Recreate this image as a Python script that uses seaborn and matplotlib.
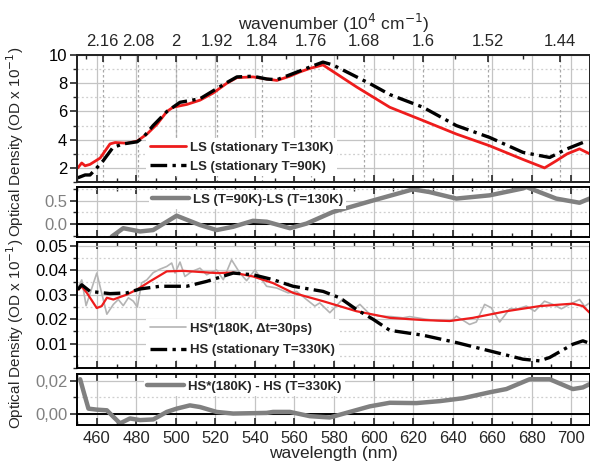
import numpy as np
import pandas as pd
import matplotlib
matplotlib.use("Agg")
import matplotlib.pyplot as plt
import seaborn as sns
from matplotlib.ticker import MultipleLocator, FixedLocator

sns.set_style("white")
plt.rcParams['font.family'] = ['Liberation Sans', 'DejaVu Sans']

# ---- panel 1: stationary LS spectra (OD x 10^-1)
ls130_nm = [450.4, 452.4, 454.1, 456.6, 461.7, 466.7, 469.3, 475.3, 480.4, 485.4, 490.5, 495.5,
            498.6, 505.6, 512.2, 518.8, 525.8, 530.9, 539.0, 546.0, 551.1, 557.7, 562.7, 567.8,
            574.4, 591.4, 608.2, 625.0, 641.9, 658.7, 675.6, 686.5, 692.4, 698.0, 704.2, 709.3]
ls130_od = [2.0, 2.35, 2.15, 2.25, 2.7, 3.7, 3.8, 3.75, 3.9, 4.4, 5.1, 6.0,
            6.3, 6.5, 6.8, 7.3, 8.0, 8.4, 8.45, 8.3, 8.2, 8.5, 8.8, 9.05,
            9.3, 7.74, 6.3, 5.36, 4.4, 3.57, 2.6, 2.0, 2.5, 3.0, 3.35, 3.0]
ls90_nm = [450.4, 454.1, 456.6, 460.0, 463.2, 468.2, 473.3, 480.4, 483.4, 488.5, 495.5, 502.1,
           512.2, 525.8, 530.9, 539.0, 546.0, 551.1, 557.7, 567.8, 574.4, 579.4, 598.1, 608.2,
           625.0, 641.9, 658.7, 675.6, 689.1, 697.5, 705.9]
ls90_od = [1.3, 1.5, 1.5, 2.0, 2.5, 3.45, 3.7, 3.85, 4.15, 5.0, 6.0, 6.65,
           6.9, 8.05, 8.45, 8.5, 8.3, 8.25, 8.6, 9.15, 9.5, 9.3, 7.98, 7.2,
           6.3, 5.0, 4.16, 3.1, 2.74, 3.33, 3.8]

# ---- panel 2: difference LS(90K) - LS(130K)
dls_nm = [467.6, 473.4, 481.9, 488.5, 500.4, 512.2, 520.6, 528.9, 539.0, 546.0, 557.7, 566.1,
          579.4, 599.8, 620.0, 628.4, 641.9, 658.7, 675.6, 677.3, 692.4, 704.2, 709.3]
dls_od = [-0.27, -0.09, -0.16, -0.13, 0.18, -0.02, -0.13, -0.06, 0.07, 0.05, -0.09, 0.01,
          0.26, 0.51, 0.75, 0.69, 0.55, 0.62, 0.77, 0.80, 0.55, 0.46, 0.55]

# ---- panel 3: transient HS* and stationary HS
hs_star_nm = [450.4, 452.4, 454.6, 460.0, 465.1, 468.4, 470.9, 473.4, 476.0, 478.5, 480.5, 482.7,
              485.3, 488.6, 492.0, 495.4, 497.9, 499.6, 502.1, 504.6, 508.0, 512.2, 515.6, 520.6,
              524.0, 528.2, 532.4, 535.8, 540.0, 545.9, 551.0, 556.8, 561.1, 566.1, 570.3, 572.8,
              577.9, 584.6, 589.7, 593.1, 598.1, 603.2, 609.1, 614.9, 618.3, 626.8, 633.5, 639.4,
              641.9, 648.6, 652.0, 656.2, 659.6, 663.8, 668.9, 673.0, 677.3, 681.5, 686.5, 690.7,
              695.0, 699.2, 704.2, 706.8, 709.3]
hs_star_od = [0.0327, 0.0360, 0.0255, 0.0388, 0.0220, 0.0260, 0.0280, 0.0255, 0.0287, 0.0273, 0.0249, 0.0348,
              0.0360, 0.0390, 0.0404, 0.0415, 0.0429, 0.0388, 0.0433, 0.0374, 0.0394, 0.0408, 0.0381, 0.0401,
              0.0361, 0.0442, 0.0388, 0.0357, 0.0401, 0.0334, 0.0327, 0.0307, 0.0313, 0.0280, 0.0253, 0.0266,
              0.0226, 0.0283, 0.0239, 0.0260, 0.0220, 0.0212, 0.0210, 0.0205, 0.0210, 0.0199, 0.0192, 0.0192,
              0.0212, 0.0178, 0.0188, 0.0260, 0.0246, 0.0188, 0.0242, 0.0242, 0.0253, 0.0232, 0.0273, 0.0260,
              0.0242, 0.0260, 0.0280, 0.0252, 0.0266]
hs_smooth_nm = [450.4, 452.4, 455.0, 460.0, 462.5, 465.1, 468.4, 475.2, 480.2, 486.9, 495.4, 503.8,
                520.6, 529.0, 539.1, 549.2, 559.3, 574.5, 591.4, 608.2, 625.0, 638.5, 650.3, 667.2,
                684.0, 700.8, 705.9, 709.3]
hs_smooth_od = [0.0320, 0.0333, 0.0307, 0.0245, 0.0253, 0.0287, 0.0280, 0.0300, 0.0320, 0.0354, 0.0395, 0.0397,
                0.0388, 0.0390, 0.0374, 0.0347, 0.0307, 0.0273, 0.0232, 0.0205, 0.0196, 0.0192, 0.0205, 0.0232,
                0.0253, 0.0263, 0.0253, 0.0226]
hs330_nm = [450.4, 452.4, 456.6, 466.7, 475.2, 481.9, 492.0, 505.5, 515.6, 529.0, 539.1, 549.2,
            559.3, 574.5, 582.9, 591.4, 599.8, 608.2, 625.0, 641.9, 658.7, 675.6, 684.0, 689.1,
            700.8, 705.9, 709.3]
hs330_od = [0.0320, 0.0340, 0.0313, 0.0304, 0.0307, 0.0323, 0.0334, 0.0334, 0.0354, 0.0388, 0.0381, 0.0361,
            0.0334, 0.0313, 0.0287, 0.0239, 0.0199, 0.0154, 0.0134, 0.0104, 0.0070, 0.0036, 0.0029, 0.0043,
            0.0097, 0.0111, 0.0101]

# ---- panel 4: difference HS*(180K) - HS(330K)
dhs_nm = [451.6, 453.2, 455.8, 460.0, 465.1, 468.4, 471.8, 476.8, 481.9, 488.6, 495.4, 500.4,
          507.1, 512.2, 520.6, 529.0, 545.9, 549.2, 557.7, 567.8, 577.9, 588.0, 598.1, 608.2,
          621.7, 633.5, 645.3, 658.7, 667.2, 679.0, 689.1, 700.8, 705.9, 709.3]
dhs_od = [0.0210, 0.0140, 0.0030, 0.0024, 0.0020, -0.0020, -0.0060, -0.0030, -0.0040, -0.0036, 0.0010, 0.0030,
          0.0050, 0.0040, 0.0010, 0.0000, 0.0004, 0.0010, 0.0010, -0.0016, -0.0024, 0.0010, 0.0044, 0.0066,
          0.0064, 0.0076, 0.0094, 0.0130, 0.0150, 0.0210, 0.0210, 0.0150, 0.0160, 0.0180]

# top axis (wavenumber, 10^4 cm^-1)
wn_major = [2.16, 2.08, 2.0, 1.92, 1.84, 1.76, 1.68, 1.6, 1.52, 1.44]
wn_minor = [2.20, 2.12, 2.04, 1.96, 1.88, 1.80, 1.72, 1.64, 1.56, 1.48]
wn_labels = ["2.16", "2.08", "2", "1.92", "1.84", "1.76", "1.68", "1.6", "1.52", "1.44"]

RED = "#ee1c1c"
GREY = "#808080"
LIGHT = "#b4b4b4"
DASHDOT = (0, (5, 1.6, 1, 1.6))
XLIM = (450, 709.5)

fig = plt.figure(figsize=(5.9, 4.66), dpi=100)
L, W = 0.1305, 0.8695
ax1 = fig.add_axes([L, 0.6094, W, 0.2725])
ax2 = fig.add_axes([L, 0.4914, W, 0.1073])
ax3 = fig.add_axes([L, 0.2103, W, 0.2704])
ax4 = fig.add_axes([L, 0.0880, W, 0.1094])


def style(ax, ylim, ymaj, ymin, tick_color="black"):
    ax.set_xlim(*XLIM)
    ax.set_ylim(*ylim)
    ax.xaxis.set_major_locator(MultipleLocator(20))
    ax.xaxis.set_minor_locator(MultipleLocator(10))
    ax.yaxis.set_major_locator(MultipleLocator(ymaj))
    ax.yaxis.set_minor_locator(MultipleLocator(ymin))
    ax.grid(which="major", color="#c4c4c4", lw=0.9, ls="-")
    ax.grid(which="minor", axis="y", color="#cfcfcf", lw=0.9, ls=(0, (1.5, 2)))
    ax.set_axisbelow(True)
    for s in ax.spines.values():
        s.set_color("black")
        s.set_linewidth(1.4)
    ax.tick_params(axis="x", which="major", direction="in", top=True, bottom=True, length=5, width=1.2)
    ax.tick_params(axis="x", which="minor", direction="in", top=True, bottom=True, length=3, width=1.0)
    ax.tick_params(axis="y", which="major", direction="out", left=True, length=5, width=1.2,
                   labelsize=12, labelcolor=tick_color, pad=2)
    ax.tick_params(axis="y", which="minor", direction="out", left=True, length=3, width=1.0)
    ax.set_xlabel("")
    ax.set_ylabel("")


def legend(ax, handles, labels, anchor, spacing=0.25):
    lg = ax.legend(handles, labels, loc="upper left", bbox_to_anchor=anchor,
                   frameon=True, framealpha=1, edgecolor="none", facecolor="white",
                   fancybox=False, prop={"weight": "bold", "size": 9.5},
                   handlelength=2.8, handletextpad=0.3, borderpad=0.25, labelspacing=spacing,
                   borderaxespad=0)
    return lg


# panel 1
style(ax1, (1.0, 10.0), 2, 1)
for w in wn_major:
    ax1.axvline(1000 / w, color="#a8a8a8", lw=0.9, ls=(0, (2, 2)), zorder=1)
sns.lineplot(x=ls130_nm, y=ls130_od, ax=ax1, color=RED, lw=2.0, label="LS (stationary T=130K)")
sns.lineplot(x=ls90_nm, y=ls90_od, ax=ax1, color="black", lw=2.4, linestyle=DASHDOT,
             label="LS (stationary T=90K)")
h, l = ax1.get_legend_handles_labels()
legend(ax1, h, l, (0.135, 0.345), spacing=0.5)
ax1.tick_params(axis="x", labelbottom=False, top=False)
ax1.tick_params(axis="x", which="minor", top=False)

top = ax1.twiny()
top.set_xlim(*XLIM)
top.xaxis.set_major_locator(FixedLocator([1000 / w for w in wn_major]))
top.xaxis.set_minor_locator(FixedLocator([1000 / w for w in wn_minor]))
top.set_xticklabels(wn_labels)
top.tick_params(axis="x", which="major", direction="in", length=5, width=1.2, labelsize=12, pad=4)
top.tick_params(axis="x", which="minor", direction="in", length=3, width=1.0)
top.set_xlabel("wavenumber (10$^{4}$ cm$^{-1}$)", fontsize=12.5, labelpad=3)
for s in top.spines.values():
    s.set_linewidth(1.4)

# panel 2
style(ax2, (-0.28, 0.8), 0.5, 0.25, tick_color=GREY)
ax2.axhline(0, color="black", lw=1.4, zorder=2)
sns.lineplot(x=dls_nm, y=dls_od, ax=ax2, color=GREY, lw=3.2, label="LS (T=90K)-LS (T=130K)")
h, l = ax2.get_legend_handles_labels()
legend(ax2, h, l, (0.14, 0.94))
ax2.tick_params(axis="x", labelbottom=False)
ax2.set_yticks([0.0, 0.5])
ax2.set_yticklabels(["0.0", "0.5"])

# panel 3
style(ax3, (0.0, 0.0515), 0.01, 0.005)
sns.lineplot(x=hs_star_nm, y=hs_star_od, ax=ax3, color=LIGHT, lw=1.2, label="HS*(180K, \u0394t=30ps)")
sns.lineplot(x=hs_smooth_nm, y=hs_smooth_od, ax=ax3, color=RED, lw=1.6, label="_nolegend_")
sns.lineplot(x=hs330_nm, y=hs330_od, ax=ax3, color="black", lw=2.4, linestyle=DASHDOT,
             label="HS (stationary T=330K)")
h, l = ax3.get_legend_handles_labels()
legend(ax3, h, l, (0.135, 0.385), spacing=0.7)
ax3.tick_params(axis="x", labelbottom=False)
ax3.set_yticks([0.01, 0.02, 0.03, 0.04, 0.05])
ax3.set_yticklabels(["0.01", "0.02", "0.03", "0.04", "0.05"])

# panel 4
style(ax4, (-0.007, 0.0242), 0.02, 0.01, tick_color=GREY)
ax4.axhline(0, color="black", lw=1.4, zorder=2)
sns.lineplot(x=dhs_nm, y=dhs_od, ax=ax4, color=GREY, lw=3.2, label="HS*(180K) - HS (T=330K)")
h, l = ax4.get_legend_handles_labels()
legend(ax4, h, l, (0.13, 0.93))
ax4.set_yticks([0.0, 0.02])
ax4.set_yticklabels(["0,00", "0,02"])
ax4.tick_params(axis="x", labelsize=12, pad=4)
ax4.set_xlabel("wavelength (nm)", fontsize=12.5, labelpad=0)

fig.text(0.026, 0.695, "Optical Density (OD x 10$^{-1}$)", rotation=90, ha="center", va="center", fontsize=11)
fig.text(0.026, 0.283, "Optical Density (OD x 10$^{-1}$)", rotation=90, ha="center", va="center", fontsize=11)

fig.savefig("out.png", dpi=100)
